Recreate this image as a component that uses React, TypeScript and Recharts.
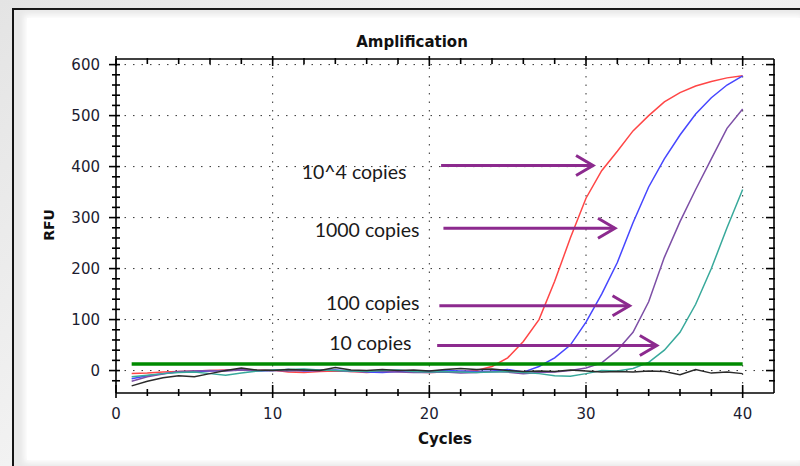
import {
  LineChart,
  Line,
  XAxis,
  YAxis,
  CartesianGrid,
  ReferenceLine,
  ReferenceDot,
} from "recharts";

// cycle numbers
const cycles = [
  1, 2, 3, 4, 5, 6, 7, 8, 9, 10, 11, 12, 13, 14, 15, 16, 17, 18, 19, 20, 21,
  22, 23, 24, 25, 26, 27, 28, 29, 30, 31, 32, 33, 34, 35, 36, 37, 38, 39, 40,
];

// RFU per cycle, one array per sample
const rfu10e4 = [
  -6, -5, -3, -2, -1, 0, 1, 2, 0, 1, -3, -4, -2, -1, -2, -4, -2, -1, -3, -4,
  -3, -2, 0, 8, 25, 57, 100, 175, 260, 338, 392, 430, 470, 500, 527, 545, 558,
  567, 574, 578,
];
const rfu1000 = [
  -16, -10, -6, -3, -2, -1, 0, 1, -1, 0, 2, -1, 0, 1, -1, -3, -4, -2, -1, -1,
  0, -1, -2, -1, 2, -3, 8, 25, 50, 95, 150, 212, 290, 360, 415, 462, 503, 535,
  560, 578,
];
const rfu100 = [
  -21, -12, -7, -2, -1, 0, -1, 1, 0, 0, -1, 0, 1, 0, -2, -1, -2, -3, -4, -4,
  -3, -5, -4, -2, -3, -6, -4, -3, 0, 5, 15, 40, 75, 135, 222, 292, 355, 415,
  475, 513,
];
const rfu10 = [
  -12, -9, -6, -4, -3, -6, -9, -5, -1, 1, 2, 3, 1, 0, -1, -2, 0, 1, -2, -3,
  -2, -3, -4, -3, -2, -4, -6, -10, -11, -6, 0, -1, 4, 16, 40, 75, 130, 200,
  280, 355,
];
const rfuNtc = [
  -30, -21, -14, -10, -12, -6, 0, 5, 1, 0, 2, 1, 0, 6, 1, 0, 2, 0, 1, -1, 2,
  4, 2, 3, 0, -2, -1, -2, 1, -1, -3, -2, -3, -1, -2, -8, 2, -5, -3, -6,
];

const threshold = 13;
const thresholdFrom = 1;
const thresholdTo = 40;

const xDomain = [0, 42];
const yDomain = [-44, 611];
const xTicks = [0, 2, 4, 6, 8, 10, 12, 14, 16, 18, 20, 22, 24, 26, 28, 30, 32, 34, 36, 38, 40];
const yTicks = [
  -20, 0, 20, 40, 60, 80, 100, 120, 140, 160, 180, 200, 220, 240, 260, 280, 300,
  320, 340, 360, 380, 400, 420, 440, 460, 480, 500, 520, 540, 560, 580, 600,
];
const xGrid = [10, 20, 30, 40];
const yGrid = [0, 100, 200, 300, 400, 500, 600];

// annotations
const noteLabels = ["10^4 copies", "1000 copies", "100 copies", "10 copies"];
const noteLabelX = [18.54, 19.37, 19.37, 18.86];
const noteLabelY = [390, 276, 133, 53];
const arrowY = [402, 279, 127, 49];
const arrowFrom = [20.75, 20.9, 20.64, 20.5];
const arrowTo = [30.45, 31.85, 32.78, 34.52];

const series = [
  { key: "s10e4", values: rfu10e4, color: "#ff4646" },
  { key: "s1000", values: rfu1000, color: "#4646ff" },
  { key: "s100", values: rfu100, color: "#7d4fa6" },
  { key: "s10", values: rfu10, color: "#38a99b" },
  { key: "ntc", values: rfuNtc, color: "#2b2b2b" },
];

const data = cycles.map((c, i) => {
  const row: Record<string, number> = { cycle: c };
  series.forEach((s) => (row[s.key] = s.values[i]));
  return row;
});

// plot box size (chart 800x466 minus margins and axis sizes)
const PLOT_W = 658;
const PLOT_H = 334;

const tickText = {
  fontFamily: "DejaVu Sans",
  fontSize: 15,
  fill: "#1c1c30",
};
const arrowColor = "#8c2a8e";

// left ticks also draw the matching tick on the right side of the box
const LeftTick = (props: any) => {
  const { x, y, payload } = props;
  const major = payload.value % 100 === 0;
  const r = x + PLOT_W;
  return (
    <g>
      <line x1={x - (major ? 7 : 4)} x2={x + 4} y1={y} y2={y} stroke="#000" strokeWidth={1.6} />
      <line x1={r - (major ? 8 : 5)} x2={r + 1} y1={y} y2={y} stroke="#000" strokeWidth={1.6} />
      {major && (
        <text x={x - 16} y={y} dy="0.36em" textAnchor="end" style={tickText}>
          {payload.value}
        </text>
      )}
    </g>
  );
};

// bottom ticks also draw the matching tick on the top of the box
const BottomTick = (props: any) => {
  const { x, y, payload } = props;
  const major = payload.value % 10 === 0;
  const t = y - PLOT_H;
  return (
    <g>
      <line x1={x} x2={x} y1={y - (major ? 8 : 4)} y2={y + (major ? 5 : 3)} stroke="#000" strokeWidth={1.6} />
      <line x1={x} x2={x} y1={t - (major ? 3 : 1)} y2={t + (major ? 7 : 5)} stroke="#000" strokeWidth={1.6} />
      {major && (
        <text x={x} y={y + 21} dy="0.36em" textAnchor="middle" style={tickText}>
          {payload.value}
        </text>
      )}
    </g>
  );
};

const Arrow = (props: any) => {
  const { x1, y1, x2, y2 } = props;
  return (
    <g>
      <line x1={x1} y1={y1} x2={x2} y2={y2} stroke={arrowColor} strokeWidth={3} />
      <polyline
        points={`${x2 - 17},${y2 - 10} ${x2},${y2} ${x2 - 17},${y2 + 10}`}
        fill="none"
        stroke={arrowColor}
        strokeWidth={3}
      />
    </g>
  );
};

const noteText = (label: string) => (props: any) => (
  <text
    x={props.cx}
    y={props.cy}
    dy="0.35em"
    textAnchor="end"
    style={{ fontFamily: "Lato", fontSize: 19.5, fill: "#1a1a1a" }}
  >
    {label}
  </text>
);

const axisLine = { stroke: "#000", strokeWidth: 1.6 };
const titleStyle = {
  position: "absolute" as const,
  fontFamily: "DejaVu Sans",
  fontWeight: "bold" as const,
  fontSize: 15,
  color: "#111",
  whiteSpace: "nowrap" as const,
  lineHeight: "18px",
};

export default function App() {
  return (
    <div
      style={{
        position: "absolute",
        left: 0,
        top: 0,
        width: 800,
        height: 466,
        overflow: "hidden",
        background: "linear-gradient(135deg, #e4e4e4, #f3f3f3 40%, #e9e9e9)",
      }}
    >
      <div
        style={{
          position: "absolute",
          left: 12,
          top: 8,
          width: 800,
          height: 470,
          borderLeft: "2.5px solid #141414",
          borderTop: "2.5px solid #141414",
          background: "#e9e9e9",
        }}
      />
      <div
        style={{
          position: "absolute",
          left: 27,
          top: 18,
          width: 773,
          height: 442,
          background: "#fff",
          boxShadow: "0 0 6px 3px #fff",
        }}
      />
      <div style={{ ...titleStyle, left: 312, width: 200, top: 33, textAlign: "center" }}>
        Amplification
      </div>
      <div style={{ ...titleStyle, left: 345, width: 200, top: 430, textAlign: "center" }}>
        Cycles
      </div>
      <div
        style={{
          ...titleStyle,
          fontSize: 14,
          left: 19,
          width: 60,
          top: 216,
          textAlign: "center",
          transform: "rotate(-90deg)",
        }}
      >
        RFU
      </div>
      <div style={{ position: "absolute", left: 0, top: 0 }}>
        <LineChart
          width={800}
          height={466}
          data={data}
          margin={{ top: 59, right: 26, bottom: 0, left: 0 }}
        >
          <CartesianGrid
            stroke="#333"
            strokeDasharray="1.5 7"
            horizontalValues={yGrid}
            verticalValues={xGrid}
          />
          <XAxis
            type="number"
            dataKey="cycle"
            domain={xDomain}
            ticks={xTicks}
            interval={0}
            allowDataOverflow
            height={73}
            tickSize={0}
            tickMargin={0}
            tickLine={false}
            axisLine={axisLine}
            tick={<BottomTick />}
          />
          <YAxis
            type="number"
            domain={yDomain}
            ticks={yTicks}
            interval={0}
            allowDataOverflow
            width={116}
            tickSize={0}
            tickMargin={0}
            tickLine={false}
            axisLine={axisLine}
            tick={<LeftTick />}
          />
          {/* top and right edges of the box */}
          <ReferenceLine y={yDomain[1]} stroke="#000" strokeWidth={1.6} />
          <ReferenceLine x={xDomain[1]} stroke="#000" strokeWidth={1.6} />
          {series.map((s) => (
            <Line
              key={s.key}
              type="linear"
              dataKey={s.key}
              stroke={s.color}
              strokeWidth={1.5}
              dot={false}
              isAnimationActive={false}
            />
          ))}
          <ReferenceLine
            segment={[
              { x: thresholdFrom, y: threshold },
              { x: thresholdTo, y: threshold },
            ]}
            stroke="#008a00"
            strokeWidth={3.5}
          />
          {noteLabels.map((label, i) => (
            <ReferenceLine
              key={"a" + i}
              segment={[
                { x: arrowFrom[i], y: arrowY[i] },
                { x: arrowTo[i], y: arrowY[i] },
              ]}
              shape={Arrow}
            />
          ))}
          {noteLabels.map((label, i) => (
            <ReferenceDot
              key={"t" + i}
              x={noteLabelX[i]}
              y={noteLabelY[i]}
              r={0}
              shape={noteText(label)}
            />
          ))}
        </LineChart>
      </div>
    </div>
  );
}
